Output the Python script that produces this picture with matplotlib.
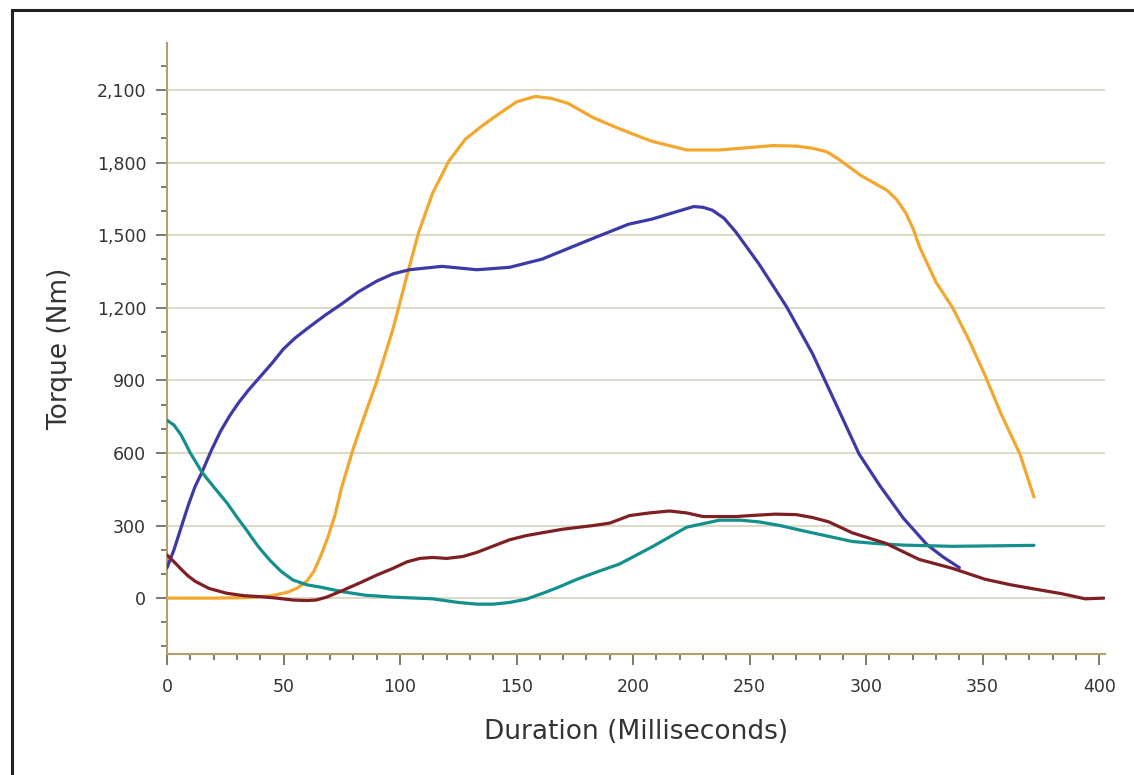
import matplotlib
matplotlib.use("Agg")
import matplotlib.pyplot as plt
from matplotlib.lines import Line2D
from matplotlib.ticker import MultipleLocator, FuncFormatter

# torque traces (ms, Nm)
orange_x = [0, 20, 35, 45, 52, 56, 60, 63, 66, 69, 72, 75, 80, 85, 90, 97, 103, 108, 114, 121,
            128, 135, 140, 150, 158, 165, 172, 183, 194, 208, 223, 237, 250, 260, 270, 277, 283,
            288, 293, 298, 303, 309, 313, 317, 320, 323, 330, 337, 344, 351, 358, 366, 372]
orange_y = [0, 0, 2, 10, 25, 42, 70, 110, 175, 250, 340, 460, 620, 760, 895, 1113, 1334, 1512,
            1674, 1807, 1896, 1950, 1985, 2051, 2073, 2065, 2045, 1985, 1940, 1888, 1852, 1852,
            1862, 1870, 1868, 1859, 1845, 1815, 1780, 1745, 1718, 1685, 1648, 1592, 1530, 1450,
            1305, 1202, 1069, 921, 759, 595, 418]

blue_x = [0, 3, 6, 9, 12, 15, 19, 23, 27, 31, 35, 40, 45, 50, 55, 61, 68, 75, 82, 90, 97, 104,
          118, 133, 147, 161, 176, 185, 198, 208, 218, 226, 230, 234, 239, 244, 254, 266, 277,
          287, 297, 306, 316, 326, 333, 340]
blue_y = [125, 200, 290, 380, 460, 520, 610, 690, 755, 811, 860, 915, 970, 1030, 1075, 1120,
          1170, 1216, 1265, 1310, 1340, 1357, 1371, 1357, 1367, 1401, 1460, 1495, 1545, 1566,
          1595, 1618, 1615, 1603, 1570, 1514, 1381, 1202, 1010, 803, 595, 463, 330, 222, 170, 126]

teal_x = [0, 3, 6, 10, 15, 20, 25.6, 30, 34, 39, 44, 49, 54, 60, 66, 75, 85, 97, 114, 125, 133,
          140, 147, 154, 161, 168, 176, 185, 194, 208, 223, 237, 246, 254, 263, 273, 284, 294,
          305, 316, 337, 355, 372]
teal_y = [735, 715, 675, 600, 520, 460, 395, 335, 283, 215, 158, 110, 75, 55, 45, 27, 12, 4, -3,
          -18, -25, -25, -18, -5, 19, 45, 78, 110, 140, 211, 293, 322, 322, 315, 300, 278, 255,
          234, 225, 219, 214, 216, 218]

red_x = [0, 3, 6, 9, 12, 18, 25.6, 33, 40, 47, 54, 60, 64, 68.5, 75, 83, 90, 97, 103, 108.5, 114,
         120, 127, 133, 140, 147, 154, 161, 170, 183, 190, 198.5, 207, 215.6, 223, 230, 244, 252,
         261, 270, 277, 284, 294, 308.5, 322.7, 337, 351, 362, 372.6, 384, 394, 402]
red_y = [178, 150, 120, 92, 70, 40, 20, 10, 6, 0, -8, -10, -8, 4, 30, 64, 95, 123, 150, 164, 168,
         164, 172, 189, 215, 241, 258, 270, 285, 300, 310, 341, 352, 360, 352, 337, 337, 342, 347,
         345, 333, 315, 270, 226, 160, 123, 78, 55, 37, 18, -3, 0]

series = [
    (orange_x, orange_y, "#f2a72e"),
    (blue_x, blue_y, "#3d3aa8"),
    (teal_x, teal_y, "#13908b"),
    (red_x, red_y, "#7e1f24"),
]

plt.rcParams['font.family'] = ['DejaVu Sans']

fig = plt.figure(figsize=(11.34, 7.75), dpi=100)
ax = fig.add_axes([167 / 1134, 1 - 654 / 775, (1105 - 167) / 1134, (654 - 43) / 775])

for xs, ys, col in series:
    ax.plot(xs, ys, color=col, lw=2.3, solid_joinstyle='round', solid_capstyle='round', zorder=3)

ax.set_xlim(0, 402.5)
ax.set_ylim(-231, 2294)

ax.xaxis.set_major_locator(MultipleLocator(50))
ax.xaxis.set_minor_locator(MultipleLocator(10))
ax.yaxis.set_major_locator(MultipleLocator(300))
ax.yaxis.set_minor_locator(MultipleLocator(100))
ax.yaxis.set_major_formatter(FuncFormatter(lambda v, p: f"{int(v):,}"))

ax.grid(axis='y', which='major', color='#dddac8', lw=1.5, zorder=1)
for s in ['top', 'right']:
    ax.spines[s].set_visible(False)
for s in ['left', 'bottom']:
    ax.spines[s].set_color('#b39e6e')
    ax.spines[s].set_linewidth(1.5)

ax.tick_params(which='major', length=8, width=1.2, color='#6b6250', labelsize=12.5,
               labelcolor='#333333')
ax.tick_params(which='minor', length=4, width=1.2, color='#6b6250')
ax.tick_params(axis='x', which='major', pad=9)
ax.tick_params(axis='y', which='major', pad=7)

ax.set_xlabel("Duration (Milliseconds)", fontsize=19, color='#333333', labelpad=17)
ax.set_ylabel("Torque (Nm)", fontsize=19, color='#333333', labelpad=17)

# outer frame of the original picture (left and top edges visible)
fig.add_artist(Line2D([12 / 1134, 12 / 1134], [0, 1 - 10 / 775], transform=fig.transFigure,
                      color='#222222', lw=2.2))
fig.add_artist(Line2D([12 / 1134, 1], [1 - 10 / 775, 1 - 10 / 775], transform=fig.transFigure,
                      color='#222222', lw=2.2))

fig.savefig("out.png", dpi=100)
